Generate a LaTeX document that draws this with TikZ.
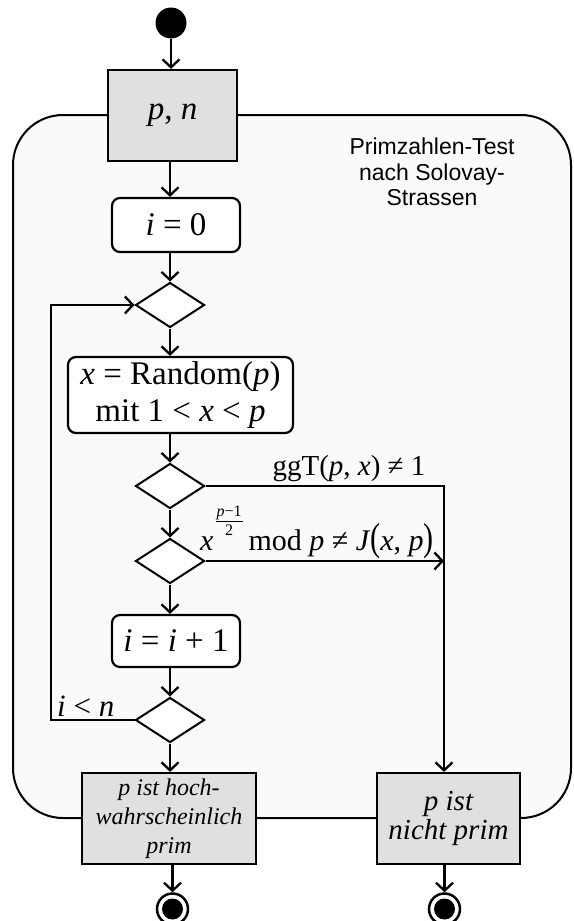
\documentclass[tikz,border=0pt]{standalone}
\usepackage{fontspec}
\setmainfont{Liberation Serif}
\newfontfamily\titlefont{Liberation Sans}
\usetikzlibrary{shapes.geometric,arrows.meta}
\definecolor{boxgray}{HTML}{E0E0E0}
\definecolor{regiongray}{HTML}{FAFAFA}
\begin{document}
\begin{tikzpicture}[x=1pt,y=-1pt,
  arr/.style={draw, line width=2.3pt, -{Straight Barb[length=8pt,width=17pt,line width=2.3pt]}},
  ln/.style={draw, line width=2.3pt},
  graybox/.style={rectangle, draw, line width=2.2pt, fill=boxgray, inner sep=0pt, align=center},
  actbox/.style={rectangle, rounded corners=8pt, draw, line width=2.2pt, fill=white, inner sep=0pt, align=center},
  dec/.style={diamond, draw, line width=2pt, fill=white, inner sep=0pt, minimum width=69pt, minimum height=45pt},
  big/.style={font=\fontsize{33}{37}\selectfont},
  lbl/.style={inner sep=0pt, font=\fontsize{29}{32}\selectfont}
]
\useasboundingbox (0,0) rectangle (573,921);
% region
\draw[line width=2pt, fill=regiongray, rounded corners=50pt] (13,115) rectangle (571,818);
\node[font=\titlefont\fontsize{23}{25.5}\selectfont, align=center] (title) at (432,172) {Primzahlen-Test\\nach Solovay-\\Strassen};

% nodes
\node[circle, fill=black, minimum size=31pt, inner sep=0pt] (start) at (171,23) {};
\node[graybox, big, minimum width=129pt, minimum height=91pt] (pn) at (172.5,115.5) {\textit{p}, \textit{n}};
\node[actbox, big, minimum width=128pt, minimum height=54pt] (i0) at (176,225) {\textit{i} = 0};
\node[dec] (d1) at (170,305) {};
\node[actbox, big, minimum width=225pt, minimum height=76pt] (rnd) at (180.5,395) {\textit{x} = Random(\textit{p})\\mit 1 < \textit{x} < \textit{p}};
\node[dec] (d2) at (170,486) {};
\node[dec] (d3) at (170,561) {};
\node[actbox, big, minimum width=128pt, minimum height=52pt] (i1) at (176,641) {\textit{i} = \textit{i} + 1};
\node[dec] (d4) at (170,720) {};
\node[graybox, minimum width=174pt, minimum height=91pt, font=\itshape\fontsize{24}{29}\selectfont] (hoch) at (169,818.5) {p ist hoch-\\wahrscheinlich\\prim};
\node[graybox, minimum width=143pt, minimum height=91pt, font=\itshape\fontsize{29}{32}\selectfont] (np) at (448.5,818.5) {\raisebox{-5pt}{\begin{tabular}{@{}c@{}}p ist\\[-3pt]nicht prim\end{tabular}}};
\node[circle, draw, line width=2.5pt, fill=white, minimum size=31pt, inner sep=0pt] (e1) at (172.5,909) {};
\node[circle, fill=black, minimum size=21pt, inner sep=0pt] (e1in) at (e1.center) {};
\node[circle, draw, line width=2.5pt, fill=white, minimum size=31pt, inner sep=0pt] (e2) at (444.5,909) {};
\node[circle, fill=black, minimum size=21pt, inner sep=0pt] (e2in) at (e2.center) {};

% labels
\node[lbl, anchor=base] (lggt) at (349,475) {ggT(\textit{p}, \textit{x}) ≠ 1};
\node[lbl, anchor=base west, font=\fontsize{30}{32}\selectfont] (lmod) at (200,550) {\textit{x}\hspace{2pt}\raisebox{23pt}{\fontsize{16}{16}\selectfont\setlength{\arrayrulewidth}{1pt}\setlength{\tabcolsep}{1pt}\begin{tabular}{c}\textit{p}−1\\\hline\rule{0pt}{13pt}2\end{tabular}}\hspace{6pt}mod \textit{p} ≠ \textit{J}\scalebox{1}[1.3]{(}\textit{x}, \textit{p}\scalebox{1}[1.3]{)}};
\node[lbl, anchor=base west, font=\fontsize{31}{32}\selectfont] (lin) at (57,716) {\textit{i} < \textit{n}};

% coordinates
\coordinate (loopx) at (51,0);
\coordinate (rx) at (444,0);

% connectors
\draw[arr] (start.south) -- (pn.north -| start.south);
\draw[arr] (pn.south -| d1.north) -- (i0.north -| d1.north);
\draw[arr] (i0.south -| d1.north) -- (d1.north);
\draw[arr] (d1.south) -- (rnd.north -| d1.south);
\draw[arr] (rnd.south -| d2.north) -- (d2.north);
\draw[arr] (d2.south) -- (d3.north);
\draw[arr] (d3.south) -- (i1.north -| d3.south);
\draw[arr] (i1.south -| d4.north) -- (d4.north);
\draw[arr] (d4.south) -- (hoch.north -| d4.south);
\draw[arr] (d4.west) -- (d4.west -| loopx) -- (d1.west -| loopx) -- (d1.west);
\draw[ln] (d2.east) -- (d2.east -| rx) -- (d3.east -| rx);
\draw[arr] (d3.east) -- (d3.east -| rx);
\draw[arr] (d3.east -| rx) -- (np.north -| rx);
\draw[arr] (hoch.south -| e1.north) -- (e1.north);
\draw[arr] (np.south -| e2.north) -- (e2.north);
\end{tikzpicture}
\end{document}
